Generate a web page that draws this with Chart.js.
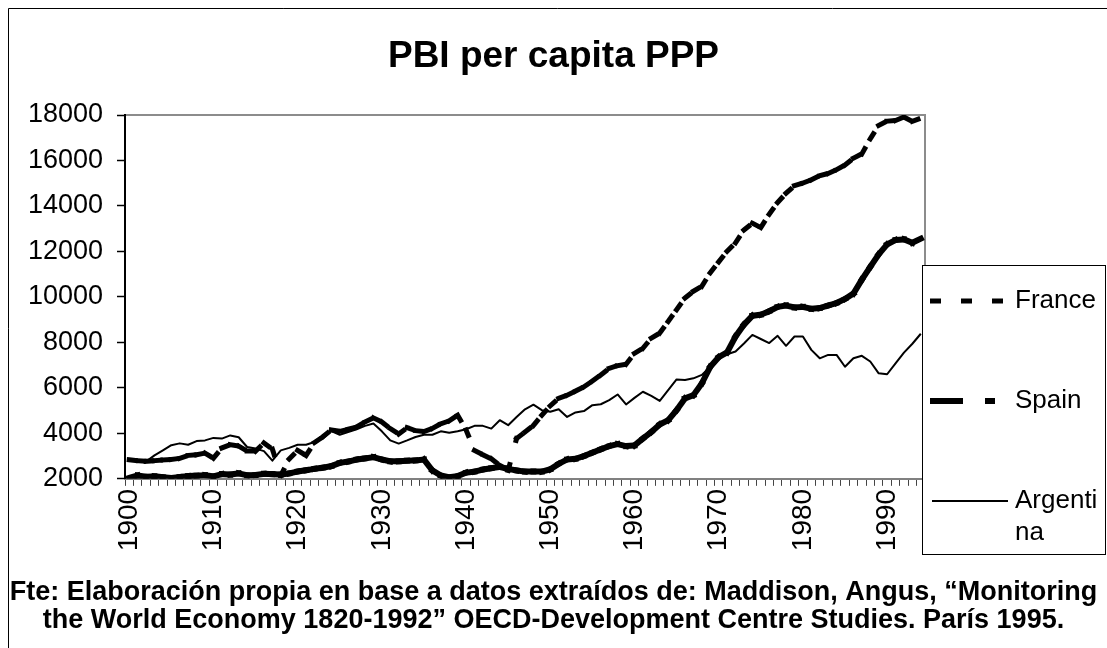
<!DOCTYPE html>
<html>
<head>
<meta charset="utf-8">
<script src="https://cdn.jsdelivr.net/npm/chart.js@4.4.1/dist/chart.umd.min.js"></script>
<style>
  html, body { margin: 0; padding: 0; background: #fff; }
  #wrap { position: relative; width: 1107px; height: 648px; }
</style>
</head>
<body>
<div id="wrap"><canvas id="myChart"></canvas></div>
<script>
// years on the category axis
var years = [
  1900,1901,1902,1903,1904,1905,1906,1907,1908,1909,
  1910,1911,1912,1913,1914,1915,1916,1917,1918,1919,
  1920,1921,1922,1923,1924,1925,1926,1927,1928,1929,
  1930,1931,1932,1933,1934,1935,1936,1937,1938,1939,
  1940,1941,1942,1943,1944,1945,1946,1947,1948,1949,
  1950,1951,1952,1953,1954,1955,1956,1957,1958,1959,
  1960,1961,1962,1963,1964,1965,1966,1967,1968,1969,
  1970,1971,1972,1973,1974,1975,1976,1977,1978,1979,
  1980,1981,1982,1983,1984,1985,1986,1987,1988,1989,
  1990,1991,1992,1993,1994
];

// GDP per capita (PPP)
var france = [
  2840,2800,2770,2800,2830,2850,2900,3030,3060,3130,
  2910,3360,3500,3440,3220,3220,3580,3310,2150,2870,
  3250,3030,3600,3850,4150,4090,4180,4280,4500,4680,
  4500,4210,3970,4250,4120,4080,4220,4420,4550,4800,
  4150,3250,3060,2880,2590,2370,3770,4060,4350,4800,
  5210,5540,5680,5860,6050,6300,6570,6860,6980,7040,
  7520,7740,8190,8410,8920,9440,9950,10250,10470,11060,
  11540,12010,12380,12940,13240,13050,13640,14150,14560,14890,
  15010,15150,15330,15430,15600,15800,16100,16290,16950,17540,
  17730,17760,17910,17720,17860
];
var spain = [
  2040,2150,2090,2110,2070,2040,2080,2120,2140,2160,
  2110,2210,2190,2240,2160,2170,2220,2210,2190,2240,
  2320,2380,2440,2490,2560,2700,2760,2850,2900,2950,
  2850,2770,2770,2800,2810,2850,2370,2150,2070,2120,
  2270,2320,2410,2470,2520,2440,2370,2320,2320,2320,
  2420,2660,2850,2880,3000,3150,3300,3440,3530,3440,
  3470,3770,4060,4390,4580,5020,5540,5680,6200,6930,
  7350,7560,8260,8780,9170,9220,9370,9560,9620,9540,
  9560,9480,9510,9620,9730,9910,10150,10760,11320,11870,
  12310,12500,12530,12380,12560
];
var argentina = [
  2850,2800,2760,3030,3250,3480,3560,3500,3660,3690,
  3800,3770,3910,3830,3400,3330,3220,2800,3250,3360,
  3500,3500,3620,3770,4100,3940,4060,4180,4330,4430,
  4090,3690,3550,3690,3840,3940,3940,4090,4030,4090,
  4180,4330,4330,4210,4580,4360,4720,5060,5260,5020,
  4950,5060,4720,4920,4980,5240,5280,5460,5710,5270,
  5560,5830,5650,5430,5900,6370,6350,6420,6570,6930,
  7330,7480,7600,7950,8330,8150,7970,8290,7850,8260,
  8260,7670,7300,7450,7450,6930,7300,7410,7160,6640,
  6600,7080,7550,7940,8380
];

var yMin = 2000, yMax = 18000, yStep = 2000;
var titleText = 'PBI per capita PPP';
var footText = [
  'Fte: Elaboración propia en base a datos extraídos de: Maddison, Angus, \u201cMonitoring',
  'the World Economy 1820-1992\u201d OECD-Development Centre Studies. París 1995.'
];

var FONT = 'Liberation Sans, Arial, Helvetica, sans-serif';
Chart.defaults.font.family = FONT;
Chart.defaults.color = '#000';

// Excel restarts the dash pattern on every segment, so split the path per segment
var perSegment = { borderDashOffset: function (c) { return (c.p0DataIndex % 2) * 0.01; } };

// white page, outer frame and grey plot border
var frame = {
  id: 'frame',
  beforeDraw: function (chart) {
    var ctx = chart.ctx, a = chart.chartArea;
    ctx.save();
    ctx.fillStyle = '#fff';
    ctx.fillRect(0, 0, chart.width, chart.height);
    ctx.strokeStyle = '#000';
    ctx.lineWidth = 1;
    ctx.beginPath();
    ctx.moveTo(8.5, chart.height);
    ctx.lineTo(8.5, 8.5);
    ctx.lineTo(chart.width, 8.5);
    ctx.stroke();
    ctx.strokeStyle = '#8c8c8c';
    ctx.lineWidth = 2;
    ctx.beginPath();
    ctx.moveTo(a.left, a.top);
    ctx.lineTo(a.right, a.top);
    ctx.lineTo(a.right, a.bottom);
    ctx.stroke();
    ctx.restore();
  }
};

// boxed legend on the right, drawn from the datasets
var boxLegend = {
  id: 'boxLegend',
  afterDraw: function (chart) {
    var ctx = chart.ctx;
    var bx = 922, by = 265, bw = 184, bh = 290;
    ctx.save();
    ctx.fillStyle = '#fff';
    ctx.fillRect(bx, by, bw, bh);
    ctx.strokeStyle = '#000';
    ctx.lineWidth = 1;
    ctx.strokeRect(bx + 0.5, by + 0.5, bw - 1, bh - 1);
    ctx.font = '26px ' + FONT;
    ctx.textBaseline = 'middle';
    ctx.textAlign = 'left';
    chart.data.datasets.forEach(function (ds, i) {
      var cy = by + 36 + i * 100;
      ctx.save();
      ctx.beginPath();
      ctx.rect(bx + 6, cy - 10, 84, 20);
      ctx.clip();
      ctx.strokeStyle = ds.borderColor;
      ctx.lineWidth = ds.borderWidth;
      ctx.lineCap = ds.borderCapStyle || 'butt';
      ctx.setLineDash(ds.borderDash || []);
      ctx.beginPath();
      ctx.moveTo(bx + 8 + (ds.borderDash ? ds.borderWidth / 2 : 2), cy);
      ctx.lineTo(bx + 86, cy);
      ctx.stroke();
      ctx.restore();
      // wrap the label like Excel does when it does not fit
      var lines = [], word = ds.label, maxW = bw - 100, cut;
      while (ctx.measureText(word).width > maxW) {
        cut = word.length - 1;
        while (cut > 1 && ctx.measureText(word.slice(0, cut)).width > maxW) cut--;
        lines.push(word.slice(0, cut));
        word = word.slice(cut);
      }
      lines.push(word);
      ctx.fillStyle = '#000';
      lines.forEach(function (t, k) { ctx.fillText(t, bx + 93, cy + k * 32); });
    });
    ctx.restore();
  }
};

var ctx = document.getElementById('myChart').getContext('2d');
var chart = new Chart(ctx, {
  type: 'line',
  data: {
    labels: years,
    datasets: [{
      label: 'France',
      data: france,
      borderColor: '#000',
      borderWidth: 5,
      borderDash: [6, 25],
      borderCapStyle: 'square',
      borderJoinStyle: 'miter',
      pointRadius: 0,
      tension: 0,
      segment: perSegment
    }, {
      label: 'Spain',
      data: spain,
      borderColor: '#000',
      borderWidth: 6,
      borderDash: [27, 28, 4, 28],
      borderCapStyle: 'square',
      borderJoinStyle: 'miter',
      pointRadius: 0,
      tension: 0,
      segment: perSegment
    }, {
      label: 'Argentina',
      data: argentina,
      borderColor: '#000',
      borderWidth: 2,
      borderJoinStyle: 'round',
      pointRadius: 0,
      tension: 0
    }]
  },
  plugins: [frame, boxLegend],
  options: {
    responsive: true,
    maintainAspectRatio: false,
    animation: false,
    events: [],
    layout: { padding: 0 },
    plugins: {
      legend: { display: false },
      tooltip: { enabled: false },
      title: {
        display: true,
        text: titleText,
        color: '#000',
        font: { size: 37, weight: 'bold' },
        lineHeight: 1.2,
        padding: { top: 35, bottom: 35.6 }
      },
      subtitle: {
        display: true,
        position: 'bottom',
        text: footText,
        color: '#000',
        font: { size: 27, weight: 'bold', lineHeight: 1.04 },
        padding: { top: 0, bottom: 13 }
      }
    },
    scales: {
      x: {
        offset: true,
        afterFit: function (s) { s.height = 100; },
        border: { color: '#808080', width: 2 },
        grid: { drawOnChartArea: false, offset: true, tickLength: 7, color: '#444', tickWidth: 1 },
        ticks: {
          autoSkip: false,
          minRotation: 90,
          maxRotation: 90,
          padding: 3,
          font: { size: 28 },
          callback: function (v, i) { return i % 10 === 0 ? this.getLabelForValue(v) : ''; }
        }
      },
      y: {
        min: yMin,
        max: yMax,
        afterFit: function (s) { s.width = 125; },
        border: { color: '#000', width: 2 },
        grid: { drawOnChartArea: false, tickLength: 8, color: '#000', tickWidth: 1.5 },
        ticks: {
          stepSize: yStep,
          padding: 14,
          font: { size: 27 },
          callback: function (v) { return String(v); }
        }
      },
      // empty right-hand axis that keeps the space where the legend sits
      side: {
        position: 'right',
        afterFit: function (s) { s.width = 182; },
        border: { display: false },
        grid: { display: false },
        ticks: { display: false }
      }
    }
  }
});
</script>
</body>
</html>
